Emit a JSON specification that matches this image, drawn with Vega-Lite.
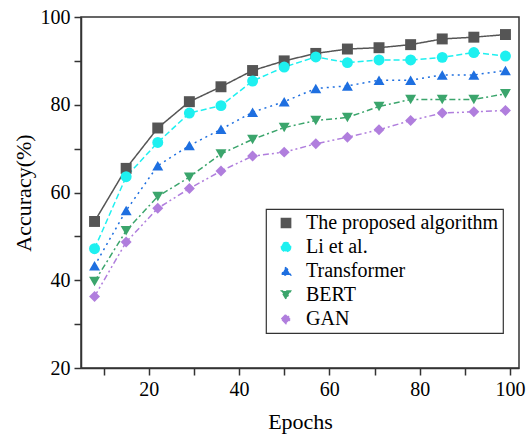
{
  "$schema": "https://vega.github.io/schema/vega-lite/v6.json",
  "width": 438,
  "height": 351,
  "autosize": {"type": "none"},
  "padding": {"left": 81, "top": 17, "right": 8, "bottom": 68},
  "config": {
    "font": "Liberation Serif",
    "view": {"stroke": "#333", "strokeWidth": 1.5},
    "axis": {"grid": false, "domainColor": "#333", "domainWidth": 1.5, "tickColor": "#333", "tickWidth": 1.5, "labelFont": "Liberation Serif", "labelFontSize": 20, "labelColor": "#000", "titleFont": "Liberation Serif", "titleFontSize": 22, "titleFontWeight": "normal", "titleColor": "#000"},
    "legend": {"strokeWidth": 1.2, "labelFont": "Liberation Serif"}
  },
  "data": {"values": [
    {"epoch": 8, "model": "The proposed algorithm", "acc": 53.4},
    {"epoch": 15, "model": "The proposed algorithm", "acc": 65.5},
    {"epoch": 22, "model": "The proposed algorithm", "acc": 74.7},
    {"epoch": 29, "model": "The proposed algorithm", "acc": 80.7},
    {"epoch": 36, "model": "The proposed algorithm", "acc": 84.1},
    {"epoch": 43, "model": "The proposed algorithm", "acc": 87.8},
    {"epoch": 50, "model": "The proposed algorithm", "acc": 90.0},
    {"epoch": 57, "model": "The proposed algorithm", "acc": 91.7},
    {"epoch": 64, "model": "The proposed algorithm", "acc": 92.7},
    {"epoch": 71, "model": "The proposed algorithm", "acc": 93.0},
    {"epoch": 78, "model": "The proposed algorithm", "acc": 93.7},
    {"epoch": 85, "model": "The proposed algorithm", "acc": 95.0},
    {"epoch": 92, "model": "The proposed algorithm", "acc": 95.4},
    {"epoch": 99, "model": "The proposed algorithm", "acc": 96.0},
    {"epoch": 8, "model": "Li et al.", "acc": 47.2},
    {"epoch": 15, "model": "Li et al.", "acc": 63.6},
    {"epoch": 22, "model": "Li et al.", "acc": 71.4},
    {"epoch": 29, "model": "Li et al.", "acc": 78.1},
    {"epoch": 36, "model": "Li et al.", "acc": 79.8},
    {"epoch": 43, "model": "Li et al.", "acc": 85.4},
    {"epoch": 50, "model": "Li et al.", "acc": 88.6},
    {"epoch": 57, "model": "Li et al.", "acc": 90.9},
    {"epoch": 64, "model": "Li et al.", "acc": 89.6},
    {"epoch": 71, "model": "Li et al.", "acc": 90.2},
    {"epoch": 78, "model": "Li et al.", "acc": 90.2},
    {"epoch": 85, "model": "Li et al.", "acc": 90.8},
    {"epoch": 92, "model": "Li et al.", "acc": 91.9},
    {"epoch": 99, "model": "Li et al.", "acc": 91.1},
    {"epoch": 8, "model": "Transformer", "acc": 43.3},
    {"epoch": 15, "model": "Transformer", "acc": 55.9},
    {"epoch": 22, "model": "Transformer", "acc": 66.1},
    {"epoch": 29, "model": "Transformer", "acc": 70.7},
    {"epoch": 36, "model": "Transformer", "acc": 74.4},
    {"epoch": 43, "model": "Transformer", "acc": 78.3},
    {"epoch": 50, "model": "Transformer", "acc": 80.7},
    {"epoch": 57, "model": "Transformer", "acc": 83.7},
    {"epoch": 64, "model": "Transformer", "acc": 84.3},
    {"epoch": 71, "model": "Transformer", "acc": 85.6},
    {"epoch": 78, "model": "Transformer", "acc": 85.6},
    {"epoch": 85, "model": "Transformer", "acc": 86.8},
    {"epoch": 92, "model": "Transformer", "acc": 86.8},
    {"epoch": 99, "model": "Transformer", "acc": 87.8},
    {"epoch": 8, "model": "BERT", "acc": 39.7},
    {"epoch": 15, "model": "BERT", "acc": 51.3},
    {"epoch": 22, "model": "BERT", "acc": 59.1},
    {"epoch": 29, "model": "BERT", "acc": 63.5},
    {"epoch": 36, "model": "BERT", "acc": 68.8},
    {"epoch": 43, "model": "BERT", "acc": 72.1},
    {"epoch": 50, "model": "BERT", "acc": 74.8},
    {"epoch": 57, "model": "BERT", "acc": 76.4},
    {"epoch": 64, "model": "BERT", "acc": 77.1},
    {"epoch": 71, "model": "BERT", "acc": 79.6},
    {"epoch": 78, "model": "BERT", "acc": 81.2},
    {"epoch": 85, "model": "BERT", "acc": 81.2},
    {"epoch": 92, "model": "BERT", "acc": 81.2},
    {"epoch": 99, "model": "BERT", "acc": 82.5},
    {"epoch": 8, "model": "GAN", "acc": 36.3},
    {"epoch": 15, "model": "GAN", "acc": 48.7},
    {"epoch": 22, "model": "GAN", "acc": 56.4},
    {"epoch": 29, "model": "GAN", "acc": 60.9},
    {"epoch": 36, "model": "GAN", "acc": 64.9},
    {"epoch": 43, "model": "GAN", "acc": 68.3},
    {"epoch": 50, "model": "GAN", "acc": 69.2},
    {"epoch": 57, "model": "GAN", "acc": 71.1},
    {"epoch": 64, "model": "GAN", "acc": 72.6},
    {"epoch": 71, "model": "GAN", "acc": 74.3},
    {"epoch": 78, "model": "GAN", "acc": 76.4},
    {"epoch": 85, "model": "GAN", "acc": 78.1},
    {"epoch": 92, "model": "GAN", "acc": 78.4},
    {"epoch": 99, "model": "GAN", "acc": 78.7}
  ]},
  "layer": [
    {
      "mark": {"type": "line", "strokeWidth": 1.5},
      "encoding": {
        "x": {"field": "epoch", "type": "quantitative", "scale": {"domain": [5, 102], "nice": false, "zero": false},
              "axis": {"orient": "bottom", "title": "Epochs", "values": [10, 20, 30, 40, 50, 60, 70, 80, 90, 100], "labelExpr": "datum.value % 20 == 0 ? datum.label : ''", "tickSize": 7, "labelPadding": 4, "titlePadding": 12, "labelFlush": false,
                       "encode": {"ticks": {"update": {"y2": {"signal": "datum.value % 20 == 0 ? 7 : 4"}}}}}},
        "y": {"field": "acc", "type": "quantitative", "scale": {"domain": [20, 100], "nice": false, "zero": false},
              "axis": {"orient": "left", "title": "Accuracy(%)", "values": [20, 30, 40, 50, 60, 70, 80, 90, 100], "labelExpr": "datum.value % 20 == 0 ? datum.label : ''", "tickSize": 7, "labelPadding": 4, "titlePadding": 5, "labelFlush": false,
                       "encode": {"ticks": {"update": {"x2": {"signal": "datum.value % 20 == 0 ? -7 : -4"}}}}}},
        "color": {"field": "model", "type": "nominal",
                  "scale": {"domain": ["The proposed algorithm", "Li et al.", "Transformer", "BERT", "GAN"], "range": ["#555555", "#1EF0F0", "#1E6FE0", "#3BA56C", "#B07EDD"]},
                  "legend": {"orient": "none", "legendX": 185, "legendY": 192, "title": null, "strokeColor": "#333", "padding": 4,
                             "symbolSize": 85, "symbolStrokeWidth": 1.5, "symbolOffset": 6, "labelOffset": 10, "rowPadding": 4, "labelLimit": 400,
                             "labelFont": "Liberation Serif", "labelFontSize": 20, "labelColor": "#000"}},
        "strokeDash": {"field": "model", "type": "nominal",
                       "scale": {"domain": ["The proposed algorithm", "Li et al.", "Transformer", "BERT", "GAN"], "range": [[1, 0], [6, 3], [2, 4], [6, 3, 2, 3], [6, 3, 2, 3, 2, 3]]},
                       "legend": null}
      }
    },
    {
      "mark": {"type": "point", "filled": true, "opacity": 1, "size": 120},
      "encoding": {
        "x": {"field": "epoch", "type": "quantitative"},
        "y": {"field": "acc", "type": "quantitative"},
        "color": {"field": "model", "type": "nominal", "legend": null},
        "shape": {"field": "model", "type": "nominal",
                  "scale": {"domain": ["The proposed algorithm", "Li et al.", "Transformer", "BERT", "GAN"], "range": ["square", "circle", "triangle-up", "triangle-down", "diamond"]},
                  "legend": null}
      }
    }
  ]
}
